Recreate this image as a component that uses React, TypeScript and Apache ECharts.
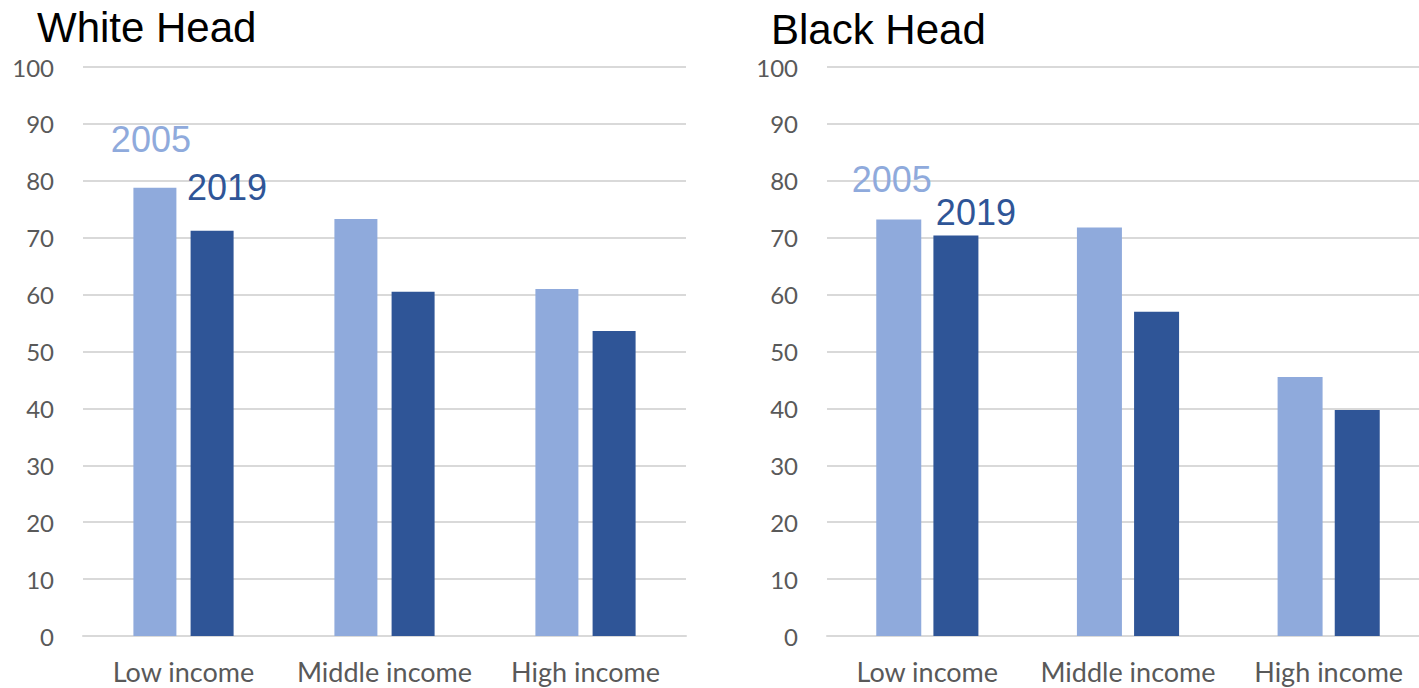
import React, { useEffect, useRef } from "react";
import * as echarts from "echarts";

const categories = ["Low income", "Middle income", "High income"];
const whiteHead2005 = [78.8, 73.3, 61.0];
const whiteHead2019 = [71.2, 60.5, 53.6];
const blackHead2005 = [73.2, 71.8, 45.5];
const blackHead2019 = [70.4, 57.0, 39.7];
const yTicks = { min: 0, max: 100, interval: 10 };
const titles = ["White Head", "Black Head"];
const seriesNames = ["2005", "2019"];

const LIGHT = "#8faadc";
const DARK = "#2f5597";
const GRID = "#d9d9d9";
const LABEL = "#595959";
const AXIS_FONT = "Lato, 'Open Sans', sans-serif";
const TITLE_FONT = "'Liberation Sans', Arial, sans-serif";

function makeData(values: number[], name: string, color: string, offset: number[]) {
  return values.map((v, i) =>
    i === 0
      ? {
          value: v,
          label: {
            show: true,
            position: "top",
            formatter: name,
            color,
            fontSize: 36,
            fontFamily: TITLE_FONT,
            offset,
          },
        }
      : v
  );
}

export default function App() {
  const ref = useRef<HTMLDivElement>(null);
  useEffect(() => {
    document.body.style.margin = "0";
    const chart = echarts.init(ref.current!, undefined, { renderer: "svg" });
    const xAxisCommon = {
      type: "category",
      data: categories,
      axisTick: { show: false },
      axisLine: { lineStyle: { color: GRID, width: 2 } },
      axisLabel: { color: LABEL, fontSize: 27, fontFamily: AXIS_FONT, margin: 22, interval: 0 },
    };
    const yAxisCommon = {
      type: "value",
      ...yTicks,
      axisLine: { show: false },
      axisTick: { show: false },
      splitLine: { lineStyle: { color: GRID, width: 2 } },
      axisLabel: { color: LABEL, fontSize: 24, fontFamily: AXIS_FONT, margin: 29 },
    };
    const titleStyle = { fontSize: 42, fontWeight: "normal", color: "#000", fontFamily: TITLE_FONT };
    chart.setOption({
      animation: false,
      title: [
        { text: titles[0], left: 37, top: 6, padding: 0, textStyle: titleStyle },
        { text: titles[1], left: 771, top: 8, padding: 0, textStyle: titleStyle },
      ],
      grid: [
        { left: 83, width: 603, top: 67, bottom: 52 },
        { left: 827, width: 602, top: 67, bottom: 52 },
      ],
      xAxis: [
        { ...xAxisCommon, gridIndex: 0 },
        { ...xAxisCommon, gridIndex: 1 },
      ],
      yAxis: [
        { ...yAxisCommon, gridIndex: 0 },
        { ...yAxisCommon, gridIndex: 1 },
      ],
      series: [
        {
          type: "bar",
          barWidth: 43,
          barGap: "33%",
          name: seriesNames[0],
          xAxisIndex: 0,
          yAxisIndex: 0,
          itemStyle: { color: LIGHT },
          data: makeData(whiteHead2005, seriesNames[0], LIGHT, [-4, -25]),
        },
        {
          type: "bar",
          barWidth: 43,
          barGap: "33%",
          name: seriesNames[1],
          xAxisIndex: 0,
          yAxisIndex: 0,
          itemStyle: { color: DARK },
          data: makeData(whiteHead2019, seriesNames[1], DARK, [15, -20]),
        },
        {
          type: "bar",
          barWidth: 45,
          barGap: "27%",
          name: seriesNames[0],
          xAxisIndex: 1,
          yAxisIndex: 1,
          itemStyle: { color: LIGHT },
          data: makeData(blackHead2005, seriesNames[0], LIGHT, [-7, -17]),
        },
        {
          type: "bar",
          barWidth: 45,
          barGap: "27%",
          name: seriesNames[1],
          xAxisIndex: 1,
          yAxisIndex: 1,
          itemStyle: { color: DARK },
          data: makeData(blackHead2019, seriesNames[1], DARK, [20, 0]),
        },
      ],
    });
    return () => chart.dispose();
  }, []);
  return (
    <div style={{ width: 1419, height: 688, overflow: "hidden" }}>
      <div ref={ref} style={{ width: 1440, height: 688 }} />
    </div>
  );
}
